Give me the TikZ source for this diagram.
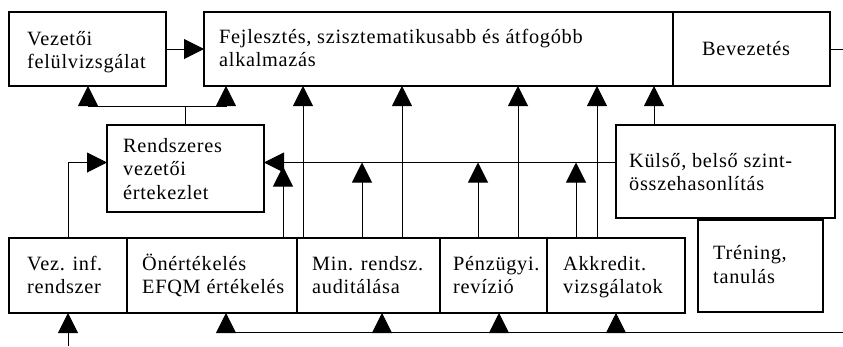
\documentclass[tikz,border=0pt]{standalone}
\usepackage{fontspec}
\setmainfont{Liberation Serif}[LetterSpace=3.5]
\usetikzlibrary{arrows.meta}
\begin{document}
\begin{tikzpicture}[x=1pt,y=-1pt,
  box/.style={draw, line width=1.2pt, inner sep=0pt, outer sep=0pt, anchor=north west},
  txt/.style={anchor=base west, align=left, inner sep=0pt, font=\fontsize{20.3}{23.5}\selectfont},
  con/.style={line width=1pt},
  arr/.style={con, -{Triangle[length=20pt,width=20pt]}}]
\useasboundingbox (0,0) rectangle (843,346);
% boxes
\node[box, minimum width=157pt, minimum height=74pt] (vf) at (9,12) {};
\node[box, minimum width=469pt, minimum height=74pt] (fj) at (204,12) {};
\node[box, minimum width=157pt, minimum height=74pt] (bv) at (673,12) {};
\node[box, minimum width=157pt, minimum height=87pt] (rv) at (107,125) {};
\node[box, minimum width=219pt, minimum height=93pt] (kb) at (616,125) {};
\node[box, minimum width=118pt, minimum height=75pt] (vi) at (9,238) {};
\node[box, minimum width=170pt, minimum height=75pt] (on) at (127,238) {};
\node[box, minimum width=143pt, minimum height=75pt] (mr) at (297,238) {};
\node[box, minimum width=107pt, minimum height=75pt] (pr) at (440,238) {};
\node[box, minimum width=138pt, minimum height=75pt] (ak) at (547,238) {};
\node[box, minimum width=125pt, minimum height=92pt] (tr) at (698,220) {};
% texts (anchor at baseline of last line)
\node[txt] (tvf) at (27,68.5) {Vezetői\\felülvizsgálat};
\node[txt] (tfj) at (219,66.5) {Fejlesztés, szisztematikusabb és átfogóbb\\alkalmazás};
\node[txt, anchor=base] (tbv) at (746,55) {Bevezetés};
\node[txt] (trv) at (123,199) {Rendszeres\\vezetői\\értekezlet};
\node[txt] (tkb) at (629,190.5) {Külső, belső szint-\\összehasonlítás};
\node[txt] (tvi) at (27,293.5) {Vez. inf.\\rendszer};
\node[txt] (ton) at (142,293.5) {Önértékelés\\EFQM értékelés};
\node[txt] (tmr) at (312,293.5) {Min. rendsz.\\auditálása};
\node[txt] (tpr) at (453,293.5) {Pénzügyi.\\revízió};
\node[txt] (tak) at (563,293.5) {Akkredit.\\vizsgálatok};
\node[txt] (ttr) at (713,283) {Tréning,\\tanulás};
% coordinates
\coordinate (edgeR) at (843,49);
\coordinate (bl) at (226,332);
\coordinate (br) at (843,332);
\coordinate (bot) at (68,346);
\coordinate (hl) at ([yshift=6pt]rv.east);
% top connectors
\draw[arr] (vf.east) -- (fj.west);
\draw[con] (bv.east) -- (edgeR);
\draw[con] (rv.north) -- ++(0,-19) coordinate (jn);
\draw[arr] (jn) -| ([xshift=79pt]vf.south west);
\draw[arr] (jn) -| ([xshift=22pt]fj.south west);
% into Rendszeres
\draw[arr] (vi.north) |- ([yshift=6pt]rv.west);
\draw[arr] ([yshift=9pt]kb.west) -- (hl);
% verticals
\path ([xshift=156pt]on.north west) coordinate (v1)
      ([xshift=6pt]mr.north west) coordinate (v2)
      ([xshift=65pt]mr.north west) coordinate (v3)
      ([xshift=105pt]mr.north west) coordinate (v4)
      ([xshift=38pt]pr.north west) coordinate (v5)
      ([xshift=78pt]pr.north west) coordinate (v6)
      ([xshift=29pt]ak.north west) coordinate (v7)
      ([xshift=50pt]ak.north west) coordinate (v8)
      ([xshift=38pt]kb.north west) coordinate (v9);
\draw[arr, shorten >=4pt] (v1) -- (v1 |- hl);
\draw[arr] (v2) -- (v2 |- fj.south);
\draw[arr] (v3) -- (v3 |- hl);
\draw[arr] (v4) -- (v4 |- fj.south);
\draw[arr] (v5) -- (v5 |- hl);
\draw[arr] (v6) -- (v6 |- fj.south);
\draw[arr] (v7) -- (v7 |- hl);
\draw[arr] (v8) -- (v8 |- fj.south);
\draw[arr] (v9) -- (v9 |- fj.south);
% bottom
\draw[con] (bl) -- (br);
\path ([xshift=99pt]on.south west) coordinate (b1)
      ([xshift=85pt]mr.south west) coordinate (b2)
      ([xshift=59pt]pr.south west) coordinate (b3)
      ([xshift=69pt]ak.south west) coordinate (b4);
\draw[arr] (b1 |- bl) -- (b1);
\draw[arr] (b2 |- bl) -- (b2);
\draw[arr] (b3 |- bl) -- (b3);
\draw[arr] (b4 |- bl) -- (b4);
\draw[arr] (bot) -- (vi.south);
\end{tikzpicture}
\end{document}
